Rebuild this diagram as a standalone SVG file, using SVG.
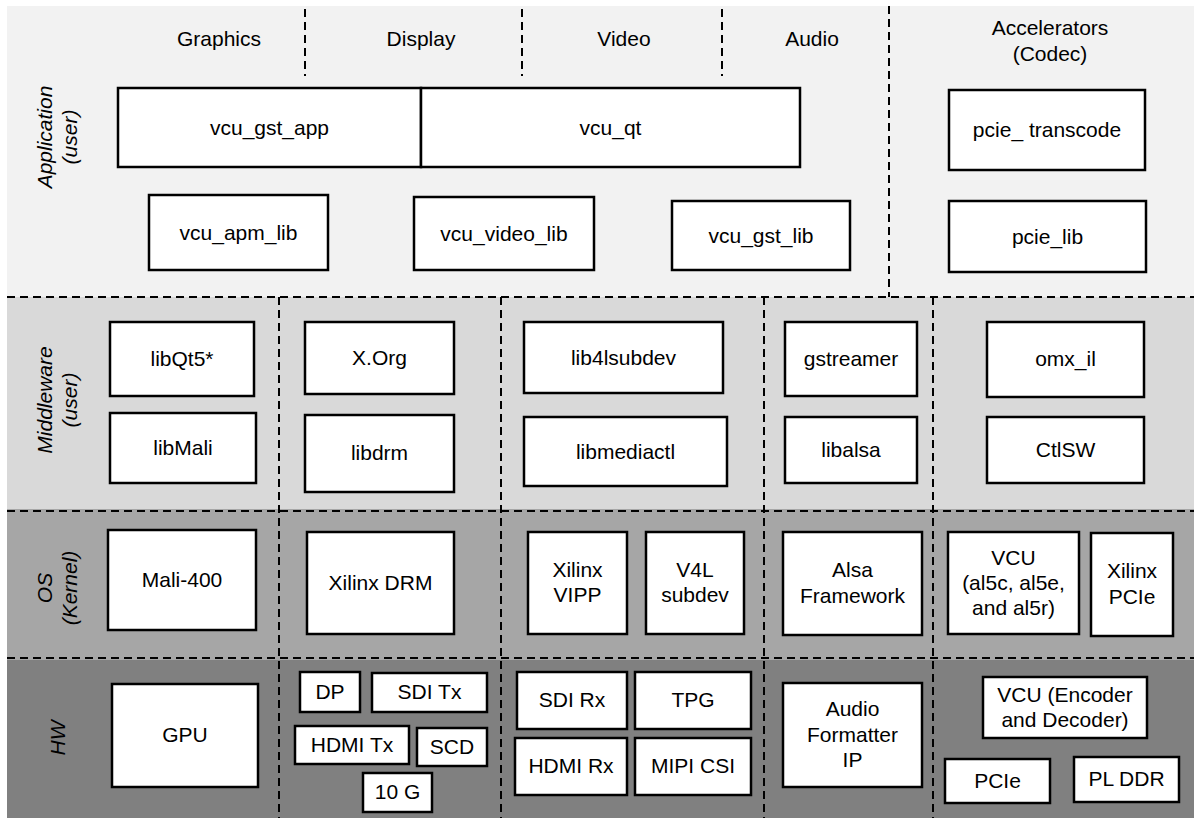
<svg xmlns="http://www.w3.org/2000/svg" width="1194" height="818" viewBox="0 0 1194 818">
<style>
text{font-family:"Liberation Sans",Arial,sans-serif;font-size:21px;fill:#000;text-anchor:middle}
.lbl{font-style:italic}
.box{fill:#fff;stroke:#000;stroke-width:2.5}
.dash{stroke:#000;stroke-width:2;stroke-dasharray:8 5;fill:none}
</style>
<rect width="1194" height="818" fill="#fff"/>
<g id="layers">
<rect x="7" y="6" width="1187" height="291" fill="#f2f2f2"/>
<rect x="7" y="297" width="1187" height="212" fill="#d9d9d9"/>
<rect x="7" y="509" width="1187" height="151" fill="#a6a6a6"/>
<rect x="7" y="660" width="1187" height="158" fill="#808080"/>
</g>
<g id="dividers">
<line class="dash" x1="7" y1="297" x2="1194" y2="297"/>
<line class="dash" x1="7" y1="511" x2="1194" y2="511"/>
<line class="dash" x1="7" y1="658" x2="1194" y2="658"/>
<line class="dash" x1="305" y1="9" x2="305" y2="76"/>
<line class="dash" x1="522" y1="9" x2="522" y2="76"/>
<line class="dash" x1="722" y1="9" x2="722" y2="76"/>
<line class="dash" x1="889" y1="6" x2="889" y2="297"/>
<line class="dash" x1="279" y1="297" x2="279" y2="818"/>
<line class="dash" x1="501" y1="297" x2="501" y2="818"/>
<line class="dash" x1="764" y1="297" x2="764" y2="818"/>
<line class="dash" x1="933" y1="297" x2="933" y2="818"/>
</g>
<g id="labels">
<text class="lbl" transform="translate(57,137) rotate(-90)"><tspan x="0" y="-5">Application</tspan><tspan x="0" y="20">(user)</tspan></text>
<text class="lbl" transform="translate(57,400) rotate(-90)"><tspan x="0" y="-5">Middleware</tspan><tspan x="0" y="20">(user)</tspan></text>
<text class="lbl" transform="translate(57,588) rotate(-90)"><tspan x="0" y="-5">OS</tspan><tspan x="0" y="20">(Kernel)</tspan></text>
<text class="lbl" transform="translate(58,738) rotate(-90)" y="7">HW</text>
<text x="219" y="46">Graphics</text>
<text x="421" y="46">Display</text>
<text x="624" y="46">Video</text>
<text x="812" y="46">Audio</text>
<text x="1050" y="35">Accelerators</text>
<text x="1050" y="61">(Codec)</text>
</g>
<g id="app">
<g id="vcu_gst_app"><rect class="box" x="118" y="88" width="303" height="79"/><text x="269.5" y="135">vcu_gst_app</text></g>
<g id="vcu_qt"><rect class="box" x="421" y="88" width="379" height="79"/><text x="610.5" y="135">vcu_qt</text></g>
<g id="vcu_apm_lib"><rect class="box" x="149" y="195" width="179" height="75"/><text x="238.5" y="240">vcu_apm_lib</text></g>
<g id="vcu_video_lib"><rect class="box" x="414" y="197" width="180" height="73"/><text x="504" y="241">vcu_video_lib</text></g>
<g id="vcu_gst_lib"><rect class="box" x="672" y="201" width="178" height="69"/><text x="761" y="243">vcu_gst_lib</text></g>
<g id="pcie_transcode"><rect class="box" x="949" y="90" width="196" height="80"/><text x="1047" y="137">pcie_ transcode</text></g>
<g id="pcie_lib"><rect class="box" x="949" y="201" width="197" height="71"/><text x="1047.5" y="244">pcie_lib</text></g>
</g>
<g id="middleware">
<g id="libQt5"><rect class="box" x="110" y="322" width="144" height="74"/><text x="182" y="366">libQt5*</text></g>
<g id="libMali"><rect class="box" x="110" y="413" width="146" height="70"/><text x="183" y="455">libMali</text></g>
<g id="xorg"><rect class="box" x="305" y="322" width="149" height="72"/><text x="379.5" y="365">X.Org</text></g>
<g id="libdrm"><rect class="box" x="305" y="415" width="149" height="77"/><text x="379.5" y="460">libdrm</text></g>
<g id="lib4lsubdev"><rect class="box" x="524" y="322" width="199" height="71"/><text x="623.5" y="365">lib4lsubdev</text></g>
<g id="libmediactl"><rect class="box" x="524" y="417" width="203" height="69"/><text x="625.5" y="459">libmediactl</text></g>
<g id="gstreamer"><rect class="box" x="785" y="322" width="132" height="74"/><text x="851" y="366">gstreamer</text></g>
<g id="libalsa"><rect class="box" x="785" y="417" width="132" height="66"/><text x="851" y="457">libalsa</text></g>
<g id="omx_il"><rect class="box" x="987" y="322" width="157" height="75"/><text x="1065.5" y="366">omx_il</text></g>
<g id="CtlSW"><rect class="box" x="987" y="417" width="157" height="66"/><text x="1065.5" y="457">CtlSW</text></g>
</g>
<g id="os">
<g id="mali400"><rect class="box" x="108" y="530" width="148" height="100"/><text x="182" y="587">Mali-400</text></g>
<g id="xilinx_drm"><rect class="box" x="307" y="532" width="147" height="102"/><text x="380.5" y="590">Xilinx DRM</text></g>
<g id="xilinx_vipp"><rect class="box" x="528" y="532" width="99" height="102"/><text x="577.5" y="577">Xilinx</text><text x="577.5" y="602">VIPP</text></g>
<g id="v4l_subdev"><rect class="box" x="646" y="532" width="98" height="102"/><text x="695" y="577">V4L</text><text x="695" y="602">subdev</text></g>
<g id="alsa_fw"><rect class="box" x="783" y="532" width="139" height="103"/><text x="852.5" y="577">Alsa</text><text x="852.5" y="603">Framework</text></g>
<g id="vcu_al5"><rect class="box" x="948" y="532" width="131" height="102"/><text x="1013.5" y="565">VCU</text><text x="1013.5" y="590">(al5c, al5e,</text><text x="1013.5" y="615">and al5r)</text></g>
<g id="xilinx_pcie"><rect class="box" x="1091" y="533" width="82" height="103"/><text x="1132" y="578">Xilinx</text><text x="1132" y="604">PCIe</text></g>
</g>
<g id="hw">
<g id="gpu"><rect class="box" x="112" y="684" width="146" height="103"/><text x="185" y="742">GPU</text></g>
<g id="dp"><rect class="box" x="300" y="672" width="60" height="40"/><text x="330" y="699">DP</text></g>
<g id="sdi_tx"><rect class="box" x="372" y="673" width="115" height="39"/><text x="429.5" y="699">SDI Tx</text></g>
<g id="hdmi_tx"><rect class="box" x="295" y="726" width="114" height="38"/><text x="352" y="752">HDMI Tx</text></g>
<g id="scd"><rect class="box" x="417" y="728" width="70" height="38"/><text x="452" y="754">SCD</text></g>
<g id="10g"><rect class="box" x="363" y="773" width="69" height="39"/><text x="397.5" y="799">10 G</text></g>
<g id="sdi_rx"><rect class="box" x="517" y="672" width="110" height="57"/><text x="572" y="707">SDI Rx</text></g>
<g id="hdmi_rx"><rect class="box" x="515" y="738" width="112" height="57"/><text x="571" y="773">HDMI Rx</text></g>
<g id="tpg"><rect class="box" x="635" y="672" width="116" height="57"/><text x="693" y="707">TPG</text></g>
<g id="mipi_csi"><rect class="box" x="635" y="738" width="116" height="57"/><text x="693" y="773">MIPI CSI</text></g>
<g id="audio_formatter"><rect class="box" x="783" y="683" width="139" height="104"/><text x="852.5" y="716">Audio</text><text x="852.5" y="742">Formatter</text><text x="852.5" y="767">IP</text></g>
<g id="vcu_enc"><rect class="box" x="983" y="677" width="164" height="61"/><text x="1065" y="702">VCU (Encoder</text><text x="1065" y="727">and Decoder)</text></g>
<g id="pcie"><rect class="box" x="945" y="759" width="105" height="44"/><text x="997.5" y="788">PCIe</text></g>
<g id="pl_ddr"><rect class="box" x="1074" y="757" width="105" height="45"/><text x="1126.5" y="786">PL DDR</text></g>
</g>
</svg>
